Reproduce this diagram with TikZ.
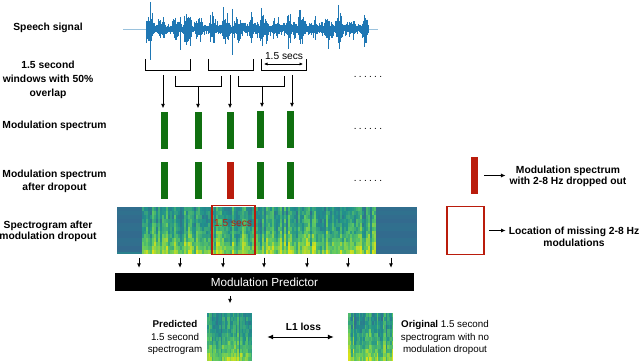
\documentclass[tikz,border=0pt]{standalone}
\usepackage{fontspec}
\setmainfont{Liberation Sans}
\usetikzlibrary{arrows.meta}
\definecolor{mgreen}{RGB}{16,112,16}
\definecolor{mred}{RGB}{186,28,12}
\definecolor{wblue}{RGB}{31,119,180}
\definecolor{vb}{RGB}{52,104,142}
\definecolor{vt}{RGB}{33,145,140}
\definecolor{vg}{RGB}{94,201,98}
\definecolor{vy}{RGB}{216,226,25}
\newcommand\vircol[1]{%
  \pgfmathsetmacro\vv{max(0,min(1,#1))}%
  \ifdim\vv pt<0.35pt
    \pgfmathtruncatemacro\pp{\vv/0.35*100}\colorlet{cc}{vt!\pp!vb}%
  \else\ifdim\vv pt<0.7pt
    \pgfmathtruncatemacro\pp{(\vv-0.35)/0.35*100}\colorlet{cc}{vg!\pp!vt}%
  \else
    \pgfmathtruncatemacro\pp{(\vv-0.7)/0.3*100}\colorlet{cc}{vy!\pp!vg}%
  \fi\fi}
\newcommand\specgram[6]{%
  \foreach \ci in {1,...,#3}{%
    \pgfmathsetmacro\act{rnd}%
    \foreach \rj in {1,...,#4}{%
      \pgfmathsetmacro\val{0.17+0.42*\act+0.42*((\rj-1)/(#4-1))^2+0.28*(rnd-0.5)}%
      \vircol{\val}%
      \fill[cc] ({#1+(\ci-1)*#5},{#2+(\rj-1)*#6}) rectangle ++({#5+0.4},{#6+0.4});%
    }%
  }%
}
\begin{document}
\begin{tikzpicture}[x=1pt,y=-1pt,
  lbl/.style={font=\bfseries\fontsize{10.3}{12.5}\selectfont, align=center, inner sep=0},
  txt/.style={font=\fontsize{9.8}{12.5}\selectfont, align=center, inner sep=0},
  brk/.style={line width=0.8pt},
  arr/.style={-{Latex[length=4.5pt,width=4.2pt]}, line width=0.9pt},
  gbar/.style={fill=mgreen, minimum width=7pt, minimum height=37pt, inner sep=0},
  rbarst/.style={fill=mred, minimum width=7pt, minimum height=37pt, inner sep=0},
  wave/.style={wblue, line width=0.55pt},
  dotsst/.style={font=\fontsize{10}{12}\selectfont, inner sep=0},
  spbox/.style={minimum width=45pt, minimum height=48pt, inner sep=0}]
\useasboundingbox (0,0) rectangle (640,361);

% ---- left labels
\node[lbl] (l1) at (48,28) {Speech signal};
\node[lbl, font=\bfseries\fontsize{10.3}{13.8}\selectfont] (l2) at (48,80) {1.5 second\\windows with 50\%\\overlap};
\node[lbl] (l3) at (54.5,126) {Modulation spectrum};
\node[lbl, font=\bfseries\fontsize{10.3}{13}\selectfont] (l4) at (54.5,181.5) {Modulation spectrum\\after dropout};
\node[lbl, font=\bfseries\fontsize{10.3}{11.5}\selectfont] (l5) at (48,231.5) {Spectrogram after\\modulation dropout};

% ---- waveform
\draw[wblue!45, line width=0.5pt] (123,29) -- (378,29);
\pgfmathsetseed{11}
\foreach \i in {0,...,444}{
  \pgfmathsetmacro\env{0.3+0.7*max(0,0.4+sin(14.2*\i)+0.6*sin(4.9*\i+50)+0.45*sin(33*\i+10))/2}
  \pgfmathsetmacro\aa{\env*(8+16*rnd^3)}
  \pgfmathsetmacro\bb{\env*(8+16*rnd^3)}
  \draw[wave] ({146+0.5*\i},{29-\aa}) -- ({146+0.5*\i},{29+\bb});
}
\draw[wave, line width=1pt] (150.5,2) -- (150.5,60);
\draw[wave, line width=0.9pt] (232,9) -- (232,55);
\draw[wave, line width=0.8pt] (210,15) -- (210,42);
\draw[wave, line width=0.8pt] (180,17) -- (180,50);
\draw[wave, line width=0.8pt] (262,16) -- (262,46);
\draw[wave, line width=0.8pt] (300,17) -- (300,44);

% ---- windows (brackets)
\coordinate (b1l) at (145,59); \coordinate (b1r) at (190,59);
\coordinate (b2l) at (208,59); \coordinate (b2r) at (253,59);
\coordinate (b3l) at (261,59); \coordinate (b3r) at (306,59);
\coordinate (c1l) at (175,76); \coordinate (c1r) at (221,76);
\coordinate (c2l) at (238,76); \coordinate (c2r) at (284,76);
\draw[brk] (b1l) -- ++(0,11) -| (b1r);
\draw[brk] (b2l) -- ++(0,11) -| (b2r);
\draw[brk] (b3l) -- ++(0,11) -| (b3r);
\draw[brk] (c1l) -- ++(0,10) -| (c1r);
\draw[brk] (c2l) -- ++(0,10) -| (c2r);
\coordinate (w1) at (264,64); \coordinate (w2) at (303,64);
\draw[{Latex[length=3.5pt,width=3.2pt]}-{Latex[length=3.5pt,width=3.2pt]}, line width=0.7pt] (w1) -- (w2);
\node[txt, font=\fontsize{10.2}{12}\selectfont] (secs) at (284,56) {1.5 secs};

% ---- modulation spectra
\node[gbar] (m1) at (164.5,130.5) {};
\node[gbar] (m2) at (198.5,130.5) {};
\node[gbar] (m3) at (230,130.5) {};
\node[gbar] (m4) at (260.5,129.5) {};
\node[gbar] (m5) at (290.5,129.5) {};
\node[gbar] (d1) at (164.5,180.5) {};
\node[gbar] (d2) at (198.5,180.5) {};
\node[rbarst] (d3) at (230,180.5) {};
\node[gbar] (d4) at (260.5,180.5) {};
\node[gbar] (d5) at (290.5,180.5) {};

\coordinate (a1) at (163,75);
\coordinate (a2) at (198,86);
\coordinate (a3) at (230,75);
\coordinate (a4) at (262,86);
\coordinate (a5) at (292,75);
\draw[arr, shorten >=3.5pt] (a1) -- (a1 |- m1.north);
\draw[arr, shorten >=3.5pt] (a2) -- (a2 |- m2.north);
\draw[arr, shorten >=3.5pt] (a3) -- (a3 |- m3.north);
\draw[arr, shorten >=3.5pt] (a4) -- (a4 |- m4.north);
\draw[arr, shorten >=3.5pt] (a5) -- (a5 |- m5.north);

% ---- dots
\node[dotsst] (dots1) at (368,77) {.\kern2.3pt.\kern2.3pt.\kern2.3pt.\kern2.3pt.\kern2.3pt.};
\node[dotsst] (dots2) at (368,129) {.\kern2.3pt.\kern2.3pt.\kern2.3pt.\kern2.3pt.\kern2.3pt.};
\node[dotsst] (dots3) at (368,181) {.\kern2.3pt.\kern2.3pt.\kern2.3pt.\kern2.3pt.\kern2.3pt.};

% ---- spectrogram after dropout
\begin{scope}
\clip (117,207) rectangle (417,254);
\fill[vb] (117,207) rectangle (417,254);
\foreach \j in {0,...,11}{
  \pgfmathsetmacro\sh{int(14+8*sin(97*\j))}
  \fill[vt!\sh!vb] (117,{207+\j*3.917}) rectangle (142.4,{207+(\j+1)*3.917+0.3});
  \fill[vt!\sh!vb] (375,{207+\j*3.917}) rectangle (417,{207+(\j+1)*3.917+0.3});
}
\fill[vt!60!vb] (117,252) rectangle (142.4,254);
\pgfmathsetseed{5}
\specgram{142}{207}{117}{12}{2}{3.917}
\end{scope}
\node[minimum width=300pt, minimum height=47pt, inner sep=0] (spec) at (267,230.5) {};
\node[draw=mred, line width=1.6pt, minimum width=43pt, minimum height=49pt, inner sep=0] (win) at (233.5,230) {};
\node[txt, font=\fontsize{10.2}{12}\selectfont, text=mred] (winlbl) at (233,223) {1.5 secs};

% ---- right legend
\node[rbarst] (rbar) at (474.5,175.5) {};
\node[lbl, font=\bfseries\fontsize{10.3}{11.6}\selectfont] (rlbl) at (568,176.5) {Modulation spectrum\\with 2-8 Hz dropped out};
\draw[arr, shorten <=6pt, shorten >=4pt] (rbar.east) -- (rbar.east -| rlbl.west);
\node[draw=mred, line width=1.5pt, minimum width=37pt, minimum height=48pt, inner sep=0] (rbox) at (465.5,230.5) {};
\node[lbl, font=\bfseries\fontsize{10.3}{12.6}\selectfont] (llbl) at (574,237) {Location of missing 2-8 Hz\\modulations};
\draw[arr, shorten <=4pt, shorten >=3pt] (rbox.east) -- (rbox.east -| llbl.west);

% ---- predictor
\node[fill=black, minimum width=299pt, minimum height=18pt, inner sep=0, text=white, font=\fontsize{11.7}{14}\selectfont] (pred) at (264.5,282) {Modulation Predictor};
\foreach \x [count=\k] in {139,180,223,264,307,348,391}{
  \coordinate (s\k) at (\x,257.5);
  \draw[arr, shorten >=5pt] (s\k) -- (s\k |- pred.north);
}

% ---- predicted / original spectrograms
\begin{scope}
\clip (207,313) rectangle (252,361);
\pgfmathsetseed{21}
\specgram{207}{313}{30}{12}{1.5}{4}
\end{scope}
\begin{scope}
\clip (348,313) rectangle (393,361);
\pgfmathsetseed{33}
\specgram{348}{313}{30}{12}{1.5}{4}
\end{scope}
\node[spbox] (predsp) at (229.5,337) {};
\node[spbox] (origsp) at (370.5,337) {};
\coordinate (p0) at (230,296);
\draw[arr, shorten >=9.5pt] (p0) -- (p0 |- predsp.north);

\node[txt] (predlbl) at (175,337.5) {\textbf{Predicted}\\1.5 second\\spectrogram};
\node[txt] (origlbl) at (445,337.5) {\textbf{Original} 1.5 second\\spectrogram with no\\modulation dropout};
\node[lbl, font=\bfseries\fontsize{10.2}{12}\selectfont] (l1loss) at (303.5,327) {L1 loss};
\draw[{Latex[length=6pt,width=5pt]}-{Latex[length=6pt,width=5pt]}, line width=1pt, shorten <=15pt, shorten >=14pt] (predsp.east) -- (origsp.west);
\end{tikzpicture}
\end{document}
